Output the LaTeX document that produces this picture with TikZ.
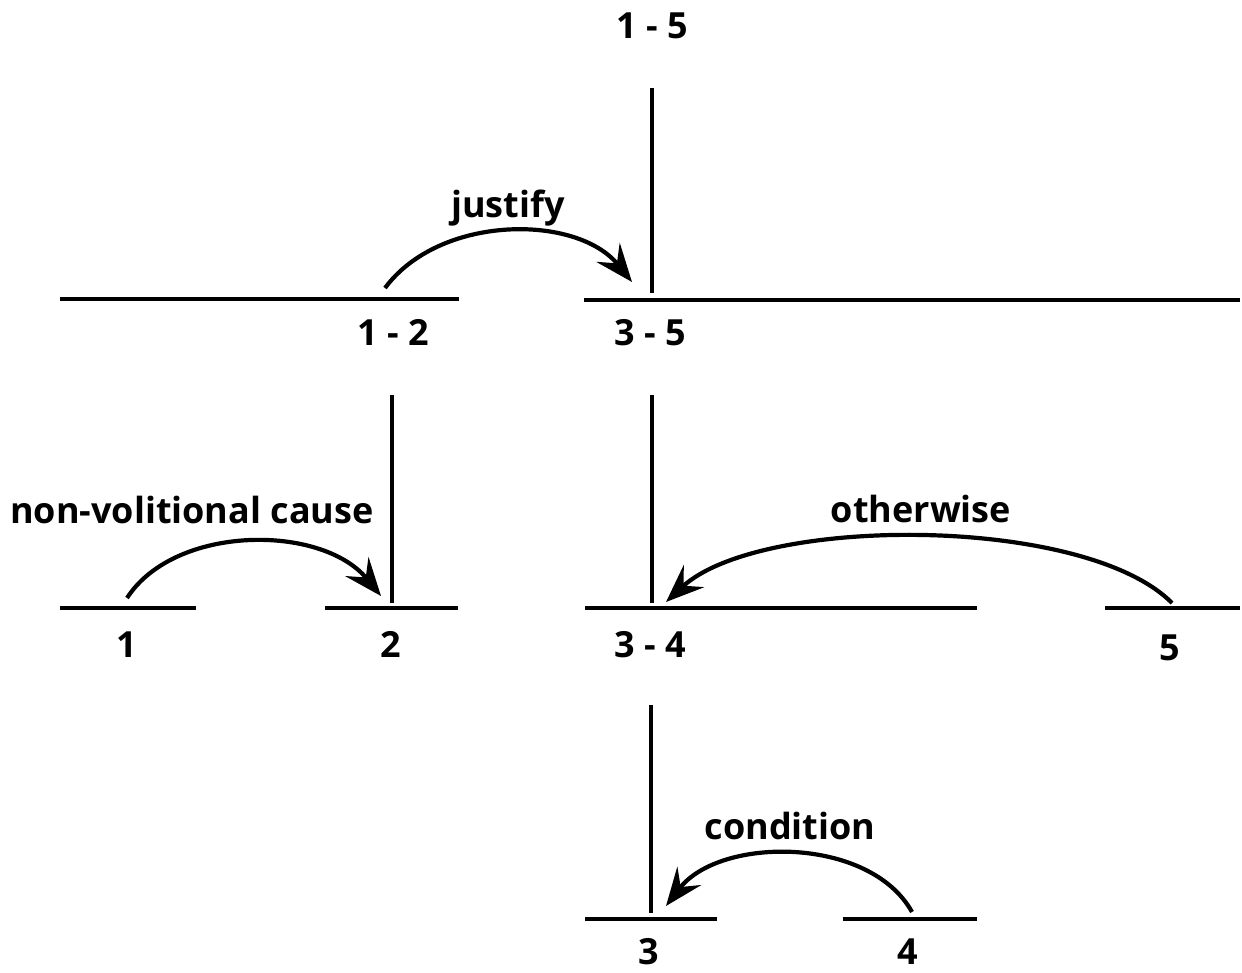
\documentclass[tikz,border=0pt]{standalone}
\usepackage{fontspec}
\setmainfont{Open Sans}
\usetikzlibrary{arrows.meta}
\begin{document}
\begin{tikzpicture}[x=1pt,y=-1pt,
  seg/.style={line width=4.4pt},
  rel/.style={line width=4.2pt,-{Stealth[length=38pt,width=30pt,inset=14pt]}},
  lab/.style={anchor=base,inner sep=0pt,font=\fontsize{36}{42}\selectfont\bfseries}]
\useasboundingbox (0,0) rectangle (1242,972);
% span lines
\coordinate (a15t) at (652,88);  \coordinate (a15b) at (652,293);
\coordinate (s12l) at (60,299);  \coordinate (s12r) at (459,299);
\coordinate (s35l) at (584,300); \coordinate (s35r) at (1240,300);
\coordinate (v12t) at (392,395); \coordinate (v12b) at (392,603);
\coordinate (v35t) at (652,395); \coordinate (v35b) at (652,603);
\coordinate (s1l) at (60,608);   \coordinate (s1r) at (196,608);
\coordinate (s2l) at (325,608);  \coordinate (s2r) at (458,608);
\coordinate (s34l) at (585,608); \coordinate (s34r) at (977,608);
\coordinate (s5l) at (1105,608); \coordinate (s5r) at (1240,608);
\coordinate (v34t) at (651,705); \coordinate (v34b) at (651,913);
\coordinate (s3l) at (585,919);  \coordinate (s3r) at (717,919);
\coordinate (s4l) at (843,919);  \coordinate (s4r) at (977,919);
\draw[seg] (a15t) -- (a15b);
\draw[seg] (s12l) -- (s12r);
\draw[seg] (s35l) -- (s35r);
\draw[seg] (v12t) -- (v12b);
\draw[seg] (v35t) -- (v35b);
\draw[seg] (s1l) -- (s1r);
\draw[seg] (s2l) -- (s2r);
\draw[seg] (s34l) -- (s34r);
\draw[seg] (s5l) -- (s5r);
\draw[seg] (v34t) -- (v34b);
\draw[seg] (s3l) -- (s3r);
\draw[seg] (s4l) -- (s4r);
% span labels
\node[lab] (l15) at (652,38) {1 - 5};
\node[lab] (l12) at (393,345) {1 - 2};
\node[lab] (l35) at (650,345) {3 - 5};
\node[lab] (l1) at (127,657) {1};
\node[lab] (l2) at (391,657) {2};
\node[lab] (l34) at (650,657) {3 - 4};
\node[lab] (l5) at (1170,660) {5};
\node[lab] (l3) at (649,964) {3};
\node[lab] (l4) at (908,964) {4};
% relation labels
\node[lab] (tj) at (508,217) {justify};
\node[lab] (tn) at (192,523) {non-volitional cause};
\node[lab] (to) at (921,522) {otherwise};
\node[lab] (tc) at (790,839) {condition};
% relation arcs
\coordinate (j0) at (385,288); \coordinate (j1) at (632,282);
\coordinate (n0) at (127,598); \coordinate (n1) at (381,596);
\coordinate (o0) at (1172,603); \coordinate (o1) at (666,602);
\coordinate (c0) at (912,912); \coordinate (c1) at (666,906);
\draw[rel] (j0) .. controls (440,214) and (577,214) .. (j1);
\draw[rel] (n0) .. controls (175,524) and (322,524) .. (n1);
\draw[rel] (o0) .. controls (1085,515) and (760,515) .. (o1);
\draw[rel] (c0) .. controls (870,836) and (720,836) .. (c1);
\end{tikzpicture}
\end{document}
